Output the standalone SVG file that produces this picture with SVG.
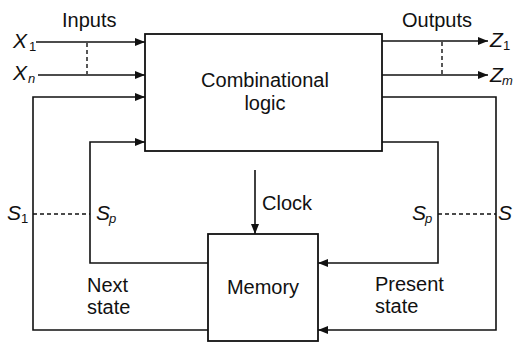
<svg xmlns="http://www.w3.org/2000/svg" width="517" height="343" viewBox="0 0 517 343">
<style>
.t{font-family:"Liberation Sans",Arial,sans-serif;font-size:20px;fill:#111}
.v{font-family:"Liberation Sans",Arial,sans-serif;font-size:21px;font-style:italic;fill:#111}
.s{font-family:"Liberation Sans",Arial,sans-serif;font-size:13px;fill:#111}
.si{font-family:"Liberation Sans",Arial,sans-serif;font-size:13px;font-style:italic;fill:#111}
.ln{fill:none;stroke:#111;stroke-width:1.6}
.d{fill:none;stroke:#111;stroke-width:1.4;stroke-dasharray:4 3}
.box{fill:#fff;stroke:#111;stroke-width:1.8}
</style>
<defs>
<marker id="ah" viewBox="0 0 10 8" refX="10" refY="4" markerWidth="10" markerHeight="8" markerUnits="userSpaceOnUse" orient="auto">
<path d="M0,0 L10,4 L0,8 z" fill="#111"/>
</marker>
</defs>
<g id="connectors">
<path class="ln" d="M36,42 H145" marker-end="url(#ah)"/>
<path class="ln" d="M38,75 H145" marker-end="url(#ah)"/>
<path class="d" d="M87,43 V74"/>
<path class="ln" d="M382,41 H488" marker-end="url(#ah)"/>
<path class="ln" d="M382,75 H488" marker-end="url(#ah)"/>
<path class="d" d="M442,42 V74"/>
<path class="ln" d="M208,330 H33 V97 H145" marker-end="url(#ah)"/>
<path class="ln" d="M208,263 H90 V142 H145" marker-end="url(#ah)"/>
<path class="ln" d="M382,97 H496 V330 H318" marker-end="url(#ah)"/>
<path class="ln" d="M382,142 H438 V263 H318" marker-end="url(#ah)"/>
<path class="d" d="M33,214 H90"/>
<path class="d" d="M438,214 H496"/>
<path class="ln" d="M255,170 V234" marker-end="url(#ah)"/>
</g>
<g id="combinational">
<rect class="box" x="145" y="34" width="237" height="117"/>
<text class="t" x="265" y="87" text-anchor="middle" font-size="21">Combinational</text>
<text class="t" x="265" y="110" text-anchor="middle" font-size="21">logic</text>
</g>
<g id="memory">
<rect class="box" x="208" y="234" width="110" height="107"/>
<text class="t" x="263" y="294" text-anchor="middle" font-size="21">Memory</text>
</g>
<g id="labels">
<text class="t" x="62" y="27">Inputs</text>
<text class="t" x="402" y="27">Outputs</text>
<text class="v" x="13" y="48">X</text><text class="s" x="29" y="51">1</text>
<text class="v" x="13" y="80">X</text><text class="si" x="28" y="83">n</text>
<text class="v" x="490" y="47">Z</text><text class="s" x="503" y="50">1</text>
<text class="v" x="490" y="82">Z</text><text class="si" x="502" y="85">m</text>
<text class="v" x="7" y="220">S</text><text class="s" x="21" y="223">1</text>
<text class="v" x="96" y="220">S</text><text class="si" x="109" y="223">p</text>
<text class="v" x="412" y="220">S</text><text class="si" x="425" y="223">p</text>
<text class="v" x="498" y="220">S</text>
<text class="t" x="262" y="210">Clock</text>
<text class="t" x="87" y="292">Next</text>
<text class="t" x="87" y="314">state</text>
<text class="t" x="375" y="291">Present</text>
<text class="t" x="375" y="313">state</text>
</g>
</svg>
